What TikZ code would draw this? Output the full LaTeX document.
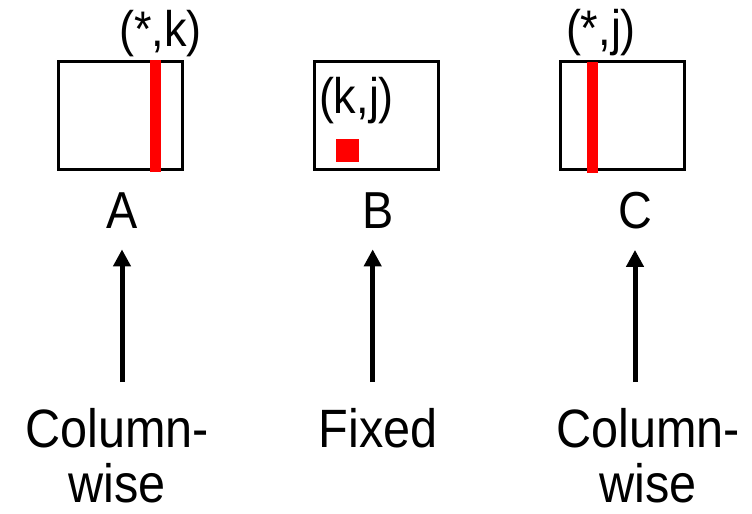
\documentclass[tikz,border=0pt]{standalone}
\usepackage{fontspec}
\setmainfont{Liberation Sans}[FakeStretch=0.9]
\usetikzlibrary{arrows.meta}
\tikzset{>={Triangle[length=8.5pt,width=8.5pt]}}
\colorlet{myred}{red}
\tikzstyle{matbox}=[draw,line width=1.5pt,minimum width=62pt,minimum height=54pt,inner sep=0]
\tikzstyle{colbar}=[fill=myred,minimum width=5.5pt,minimum height=55.75pt,inner sep=0]
\tikzstyle{elem}=[fill=myred,minimum size=11.5pt,inner sep=0]
\tikzstyle{idxlbl}=[inner sep=0,font=\fontsize{25}{30}\selectfont]
\tikzstyle{matlbl}=[inner sep=0,anchor=base,font=\fontsize{26}{30}\selectfont]
\tikzstyle{accesslbl}=[inner sep=0,anchor=north,align=center,font=\fontsize{27}{27.5}\selectfont]
\tikzstyle{flow}=[->,line width=2.5pt,shorten <=13pt,shorten >=10.5pt]

\begin{document}
\begin{tikzpicture}[x=0.5pt,y=-0.5pt]
  \useasboundingbox (0,0) rectangle (752,514);
  \def\ym{115.5}  % matrix centre height
  \def\yl{228}    % matrix name baseline
  \def\ya{408}    % access text top

  % MATRICES
  \node[matbox] (matA) at (120.5,\ym) {};
  \node[matbox] (matB) at (376.5,\ym) {};
  \node[matbox] (matC) at (622,\ym) {};

  % PARTS IN USE
  \node[colbar] (colA) at (155.5,116) {};
  \node[elem] (elemB) at (347.5,150.5) {};
  \node[colbar] (colC) at (592.7,117.5) {};
  \node[idxlbl] (idxA) at (160.5,33.5) {(*,k)};
  \node[idxlbl] (idxB) at (356.5,101) {(k,j)};
  \node[idxlbl] (idxC) at (601,33) {(*,j)};

  % NAMES
  \node[matlbl] (lblA) at (122,\yl) {A};
  \node[matlbl] (lblB) at (378.5,\yl) {B};
  \node[matlbl] (lblC) at (635,\yl) {C};

  % ACCESS PATTERN
  \node[accesslbl] (accA) at (117,\ya) {Column-\\wise};
  \node[accesslbl] (accB) at (378,\ya) {Fixed};
  \node[accesslbl] (accC) at (648,\ya) {Column-\\wise};
  \draw[flow] (lblA.south |- accA.north) -- (lblA.south);
  \draw[flow] ([xshift=-2.9pt]lblB.south |- accB.north) -- ([xshift=-2.9pt]lblB.south);
  \draw[flow] (lblC.south |- accC.north) -- (lblC.south);

\end{tikzpicture}
\end{document}
